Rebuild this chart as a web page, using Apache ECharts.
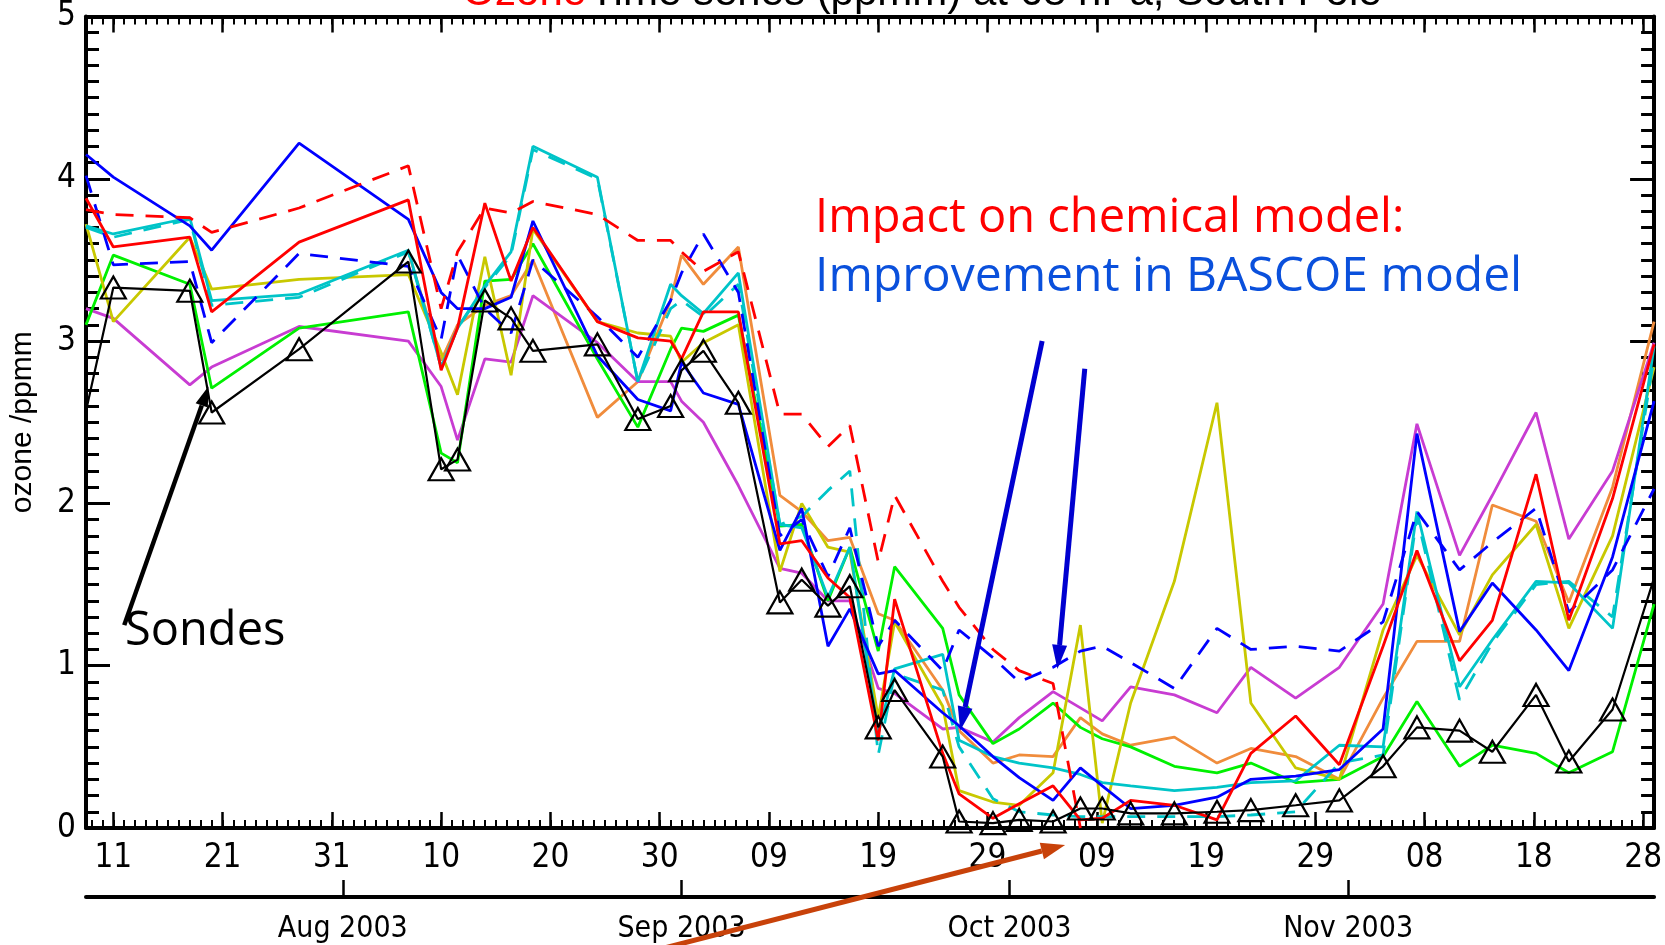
<!DOCTYPE html>
<html><head><meta charset="utf-8">
<script src="https://cdn.jsdelivr.net/npm/echarts@6/dist/echarts.min.js"></script>
<style>html,body{margin:0;padding:0;background:#fff}#c{width:1665px;height:945px}</style>
</head><body><div id="c"></div>
<script>
// x = day number counted from 31 Jul 2003 (1 = 1 Aug)
const sondeDays = [8.5, 11, 18, 20, 28, 38, 41, 42.5, 45, 47.4, 49.4, 55.3, 59, 62, 63, 65, 68.2, 72, 74, 76.4, 78.4, 81, 82.5, 86.9, 88.4, 91.5, 93.9, 97, 99.5, 101.5, 104.1, 108.1, 112, 115.1, 119.2, 123.2, 127.2, 130.3, 134.2, 137.2, 141.2, 144.2, 148.2, 152];
const dayTickValues = [11, 21, 31, 41, 51, 61, 71, 81, 91, 101, 111, 121, 131, 141, 151];
const dayTickLabels = ['11', '21', '31', '10', '20', '30', '09', '19', '29', '09', '19', '29', '08', '18', '28'];
const monthTickValues = [32, 63, 93, 124];
const monthLabels = ['Aug 2003', 'Sep 2003', 'Oct 2003', 'Nov 2003'];

const sondes = [2.57, 3.33, 3.31, 2.56, 2.95, 3.49, 2.21, 2.27, 3.25, 3.14, 2.94, 2.98, 2.52, 2.60, 2.82, 2.94, 2.62, 1.39, 1.53, 1.37, 1.49, 0.62, 0.85, 0.44, 0.04, 0.03, 0.05, 0.04, 0.12, 0.12, 0.09, 0.09, 0.10, 0.11, 0.14, 0.17, 0.38, 0.62, 0.60, 0.47, 0.82, 0.41, 0.73, 1.54];
const redSolid = [3.88, 3.58, 3.64, 3.18, 3.61, 3.87, 2.82, 3.08, 3.85, 3.37, 3.70, 3.12, 3.02, 3.00, 2.89, 3.18, 3.18, 1.75, 1.77, 1.54, 1.42, 0.54, 1.41, 0.46, 0.21, 0.06, 0.15, 0.26, 0.05, 0.06, 0.17, 0.14, 0.05, 0.46, 0.69, 0.39, 1.12, 1.71, 1.03, 1.28, 2.18, 1.28, 2.03, 2.98];
const redDashed = [3.81, 3.78, 3.76, 3.67, 3.82, 4.08, 3.20, 3.55, 3.82, 3.79, 3.86, 3.78, 3.62, 3.62, 3.55, 3.43, 3.55, 2.55, 2.55, 2.35, 2.48, 1.64, 2.05, 1.52, 1.36, 1.10, 0.97, 0.89, 0.0, null, null, null, null, null, null, null, null, null, null, null, null, null, null, null];
const blueSolid = [4.15, 4.01, 3.71, 3.56, 4.22, 3.75, 3.30, 3.20, 3.20, 3.27, 3.74, 2.91, 2.64, 2.57, 2.87, 2.68, 2.61, 1.71, 1.97, 1.12, 1.35, 0.95, 0.97, 0.71, 0.63, 0.44, 0.31, 0.17, 0.37, 0.26, 0.12, 0.14, 0.19, 0.30, 0.32, 0.36, 0.61, 2.43, 1.21, 1.51, 1.22, 0.97, 1.67, 2.63];
const blueDashed = [4.02, 3.47, 3.49, 2.99, 3.54, 3.46, 3.01, 3.53, 3.20, 3.05, 3.50, 3.15, 2.90, 3.25, 3.42, 3.66, 3.30, 1.80, 1.90, 1.55, 1.85, 1.12, 1.28, 0.97, 1.22, 1.05, 0.90, 0.99, 1.09, 1.12, 1.02, 0.86, 1.23, 1.10, 1.12, 1.09, 1.27, 1.95, 1.59, 1.76, 1.97, 1.33, 1.59, 2.09];
const cyanSolid = [3.71, 3.66, 3.76, 3.25, 3.29, 3.56, 2.84, 3.08, 3.34, 3.55, 4.20, 4.01, 2.75, 3.35, 3.28, 3.17, 3.42, 1.87, 1.85, 1.42, 1.73, 0.58, 0.98, 1.07, 0.54, 0.44, 0.40, 0.37, 0.33, 0.28, 0.26, 0.23, 0.25, 0.28, 0.29, 0.51, 0.50, 1.95, 0.87, 1.16, 1.52, 1.51, 1.23, 2.97];
const cyanDashed = [3.70, 3.64, 3.75, 3.22, 3.27, 3.55, 2.84, 3.08, 3.33, 3.53, 4.18, 4.00, 2.75, 3.20, 3.25, 3.15, 3.35, 1.87, 1.92, 2.08, 2.20, 0.45, 0.95, 0.85, 0.50, 0.18, 0.10, 0.08, 0.07, 0.07, 0.07, 0.07, 0.07, 0.08, 0.10, 0.40, 0.45, 1.92, 0.79, 1.14, 1.50, 1.52, 1.30, 2.90];
const yellow = [3.72, 3.12, 3.64, 3.32, 3.38, 3.41, 2.93, 2.67, 3.52, 2.79, 3.69, 3.12, 3.05, 3.03, 2.87, 2.99, 3.10, 1.58, 2.00, 1.73, 1.70, 0.68, 1.27, 0.75, 0.23, 0.16, 0.14, 0.34, 1.25, 0.03, 0.77, 1.52, 2.62, 0.77, 0.37, 0.30, 1.22, 1.68, 1.19, 1.56, 1.87, 1.23, 1.80, 2.84];
const green = [3.10, 3.53, 3.35, 2.71, 3.08, 3.18, 2.31, 2.25, 3.37, 3.38, 3.60, 2.89, 2.47, 2.95, 3.08, 3.06, 3.16, 1.86, 1.87, 1.40, 1.73, 1.09, 1.61, 1.23, 0.82, 0.52, 0.61, 0.77, 0.62, 0.55, 0.50, 0.38, 0.34, 0.40, 0.28, 0.30, 0.44, 0.78, 0.38, 0.51, 0.46, 0.34, 0.47, 1.38];
const magenta = [3.20, 3.14, 2.73, 2.84, 3.09, 3.00, 2.72, 2.39, 2.89, 2.87, 3.28, 2.99, 2.75, 2.75, 2.63, 2.50, 2.11, 1.60, 1.57, 1.40, 1.40, 0.86, 0.83, 0.61, 0.62, 0.53, 0.68, 0.84, 0.74, 0.66, 0.87, 0.82, 0.71, 0.99, 0.80, 0.99, 1.38, 2.49, 1.68, 2.05, 2.56, 1.78, 2.20, 2.99];
const orange = [null, null, null, null, null, 3.55, 2.88, 3.10, 3.22, 3.28, 3.50, 2.53, 2.75, 3.25, 3.53, 3.35, 3.58, 2.05, 1.95, 1.77, 1.79, 1.32, 1.28, 0.85, 0.60, 0.40, 0.45, 0.44, 0.68, 0.58, 0.51, 0.56, 0.40, 0.49, 0.44, 0.30, 0.80, 1.15, 1.15, 1.99, 1.89, 1.39, 2.10, 3.12];

// annotation arrows, in data coordinates [day, ozone]
const sondeArrow = [[12.0, 1.25], [19.7, 2.72]];
const blueArrow1 = [[96.0, 3.0], [88.5, 0.60]];
const blueArrow2 = [[99.9, 2.83], [97.4, 0.98]];
const redArrow = [[60.8, -0.75], [98.1, -0.105]];

const minorDays = [];
for (let d = 9; d <= 152; d++) minorDays.push(d);

const axisFont = "'Liberation Sans Narrow','DejaVu Sans Condensed','Liberation Sans',sans-serif";
const annFont = "'Comic Sans MS','Open Sans',sans-serif";

function pairs(vals) {
  return sondeDays.map((d, i) => [d, vals[i] == null ? '-' : vals[i]]);
}
function lineSeries(name, vals, color, dashed, width) {
  return {
    name, type: 'line', data: pairs(vals), symbol: 'none', silent: true,
    lineStyle: { color, width: width || 2.8, type: dashed ? [18, 12] : 'solid' },
    itemStyle: { color }, z: 3
  };
}

const xBase = {
  type: 'value', min: 8.5, max: 152, gridIndex: 0,
  splitLine: { show: false }
};
const option = {
  animation: false,
  backgroundColor: '#fff',
  grid: { left: 82, right: 10, top: 13, bottom: 117, containLabel: false },
  xAxis: [
    Object.assign({}, xBase, {
      position: 'bottom',
      axisLine: { onZero: false, lineStyle: { color: '#000', width: 4 } },
      axisTick: { inside: true, length: 16, customValues: dayTickValues, lineStyle: { color: '#000', width: 2.5 } },
      axisLabel: { customValues: dayTickValues, margin: 14, color: '#000', fontSize: 33, fontFamily: axisFont,
        formatter: v => dayTickLabels[dayTickValues.indexOf(v)] }
    }),
    Object.assign({}, xBase, {
      position: 'bottom',
      axisLine: { show: false, onZero: false },
      axisTick: { inside: true, length: 8, customValues: minorDays, lineStyle: { color: '#000', width: 2 } },
      axisLabel: { show: false }
    }),
    Object.assign({}, xBase, {
      position: 'top',
      axisLine: { onZero: false, lineStyle: { color: '#000', width: 4 } },
      axisTick: { inside: true, length: 16, customValues: dayTickValues, lineStyle: { color: '#000', width: 2.5 } },
      axisLabel: { show: false }
    }),
    Object.assign({}, xBase, {
      position: 'top',
      axisLine: { show: false, onZero: false },
      axisTick: { inside: true, length: 8, customValues: minorDays, lineStyle: { color: '#000', width: 2 } },
      axisLabel: { show: false }
    }),
    Object.assign({}, xBase, {
      position: 'bottom', offset: 69,
      axisLine: { onZero: false, lineStyle: { color: '#000', width: 4 } },
      axisTick: { inside: true, length: 17, customValues: monthTickValues, lineStyle: { color: '#000', width: 2.5 } },
      axisLabel: { customValues: monthTickValues, margin: 17, color: '#000', fontSize: 30, fontFamily: axisFont,
        formatter: v => monthLabels[monthTickValues.indexOf(v)] }
    })
  ],
  yAxis: [
    {
      type: 'value', min: 0, max: 5, interval: 1, position: 'left',
      name: 'ozone /ppmm', nameLocation: 'middle', nameRotate: 90, nameGap: 48,
      nameTextStyle: { color: '#000', fontSize: 30, fontFamily: "'Liberation Sans',sans-serif" },
      axisLine: { onZero: false, lineStyle: { color: '#000', width: 4 } },
      axisTick: { inside: true, length: 24, lineStyle: { color: '#000', width: 3 } },
      minorTick: { show: true, splitNumber: 10, length: 13, lineStyle: { color: '#000', width: 3 } },
      axisLabel: { margin: 10, color: '#000', fontSize: 33, fontFamily: axisFont },
      splitLine: { show: false }, minorSplitLine: { show: false }
    },
    {
      type: 'value', min: 0, max: 5, interval: 1, position: 'right',
      axisLine: { onZero: false, lineStyle: { color: '#000', width: 4 } },
      axisTick: { inside: true, length: 24, lineStyle: { color: '#000', width: 3 } },
      minorTick: { show: true, splitNumber: 10, length: 13, lineStyle: { color: '#000', width: 3 } },
      axisLabel: { show: false },
      splitLine: { show: false }, minorSplitLine: { show: false }
    }
  ],
  series: [
    lineSeries('orange', orange, '#f08c3c'),
    lineSeries('magenta', magenta, '#c83cd2'),
    lineSeries('green', green, '#00f000'),
    lineSeries('yellow', yellow, '#c8c800'),
    lineSeries('cyan', cyanSolid, '#00c4c8'),
    lineSeries('cyan dashed', cyanDashed, '#00c4c8', true),
    lineSeries('blue', blueSolid, '#0000ff'),
    lineSeries('blue dashed', blueDashed, '#0000ff', true),
    lineSeries('red', redSolid, '#ff0000'),
    lineSeries('red dashed', redDashed, '#ff0000', true),
    {
      name: 'Sondes', type: 'line', silent: true, z: 5,
      data: sondeDays.map((d, i) => ({ value: [d, sondes[i]], symbol: (i === 0 || i === sondeDays.length - 1) ? 'none' : 'triangle' })),
      symbolSize: [25, 22], showAllSymbol: true,
      lineStyle: { color: '#000', width: 2.2 },
      itemStyle: { color: 'rgba(0,0,0,0)', borderColor: '#000', borderWidth: 2.2 }
    }
  ]
};

const chart = echarts.init(document.getElementById('c'), null, { renderer: 'canvas' });
chart.setOption(option);

function px(p) { return chart.convertToPixel({ xAxisIndex: 0, yAxisIndex: 0 }, p); }
function arrow(seg, color, width, headLen, headW) {
  const a = px(seg[0]), b = px(seg[1]);
  const ang = Math.atan2(b[1] - a[1], b[0] - a[0]);
  const bx = b[0] - headLen * Math.cos(ang), by = b[1] - headLen * Math.sin(ang);
  const nx = -Math.sin(ang) * headW / 2, ny = Math.cos(ang) * headW / 2;
  return [
    { type: 'line', silent: true, z: 100, shape: { x1: a[0], y1: a[1], x2: bx, y2: by }, style: { stroke: color, lineWidth: width } },
    { type: 'polygon', silent: true, z: 100, shape: { points: [[b[0], b[1]], [bx + nx, by + ny], [bx - nx, by - ny]] }, style: { fill: color } }
  ];
}

const graphics = [].concat(
  arrow(sondeArrow, '#000', 4.5, 20, 13),
  arrow(blueArrow1, '#0000d0', 5, 24, 15),
  arrow(blueArrow2, '#0000d0', 5, 24, 15),
  arrow(redArrow, '#c8420a', 5, 24, 17),
  [
    { type: 'text', silent: true, z: 100, x: 922, y: 14,
      style: { text: '{r|Ozone} {b|Time series (ppmm) at 68 hPa, South Pole}', align: 'center', verticalAlign: 'bottom',
        rich: { r: { fill: '#ff0000', fontSize: 42, fontFamily: "'Liberation Sans',sans-serif" },
                b: { fill: '#000', fontSize: 42, fontFamily: "'Liberation Sans',sans-serif" } } } },
    { type: 'text', silent: true, z: 100, x: 815, y: 219,
      style: { text: 'Impact on chemical model:', fill: '#ff0000', fontSize: 47, fontFamily: annFont, align: 'left', verticalAlign: 'middle' } },
    { type: 'text', silent: true, z: 100, x: 815, y: 277,
      style: { text: 'Improvement in BASCOE model', fill: '#0a50dc', fontSize: 48, fontFamily: annFont, align: 'left', verticalAlign: 'middle' } },
    { type: 'text', silent: true, z: 100, x: 125, y: 632,
      style: { text: 'Sondes', fill: '#000', fontSize: 47, fontFamily: annFont, align: 'left', verticalAlign: 'middle' } }
  ]
);
chart.setOption({ graphic: graphics });
</script>
</body></html>
